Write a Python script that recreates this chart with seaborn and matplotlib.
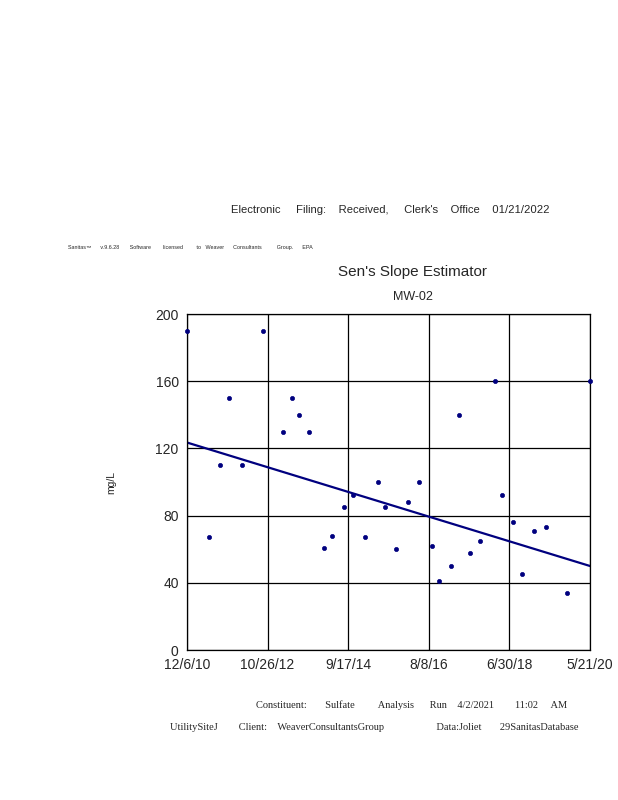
import matplotlib
matplotlib.use("Agg")
import matplotlib.pyplot as plt
import seaborn as sns
import pandas as pd

# sample dates and sulfate values (mg/L)
sample_dates = [
    "2010-12-06", "2011-06-15", "2011-09-15", "2011-12-04", "2012-03-19",
    "2012-09-20", "2013-03-05", "2013-05-27", "2013-07-20", "2013-10-17",
    "2014-02-20", "2014-05-04", "2014-08-15", "2014-10-26", "2015-02-09",
    "2015-05-31", "2015-08-02", "2015-10-30", "2016-02-10", "2016-05-16",
    "2016-09-02", "2016-11-01", "2017-02-12", "2017-04-27", "2017-07-30",
    "2017-10-19", "2018-02-24", "2018-04-28", "2018-08-03", "2018-10-19",
    "2019-01-30", "2019-05-07", "2019-11-09", "2020-05-21",
]
sulfate = [
    190, 67, 110, 150, 110,
    190, 130, 150, 140, 130,
    61, 68, 85, 92, 67,
    100, 85, 60, 88, 100,
    62, 41, 50, 140, 58,
    65, 160, 92, 76, 45,
    71, 73, 34, 160,
]

# Sen's slope line end points
trend_dates = ["2010-12-06", "2020-05-21"]
trend_values = [123.5, 50.0]

x_tick_labels = ["12/6/10", "10/26/12", "9/17/14", "8/8/16", "6/30/18", "5/21/20"]
y_ticks = [0, 40, 80, 120, 160, 200]

navy = "#00007f"

df = pd.DataFrame({"date": pd.to_datetime(sample_dates), "value": sulfate})
trend = pd.DataFrame({"date": pd.to_datetime(trend_dates), "value": trend_values})
xticks = pd.to_datetime(x_tick_labels, format="%m/%d/%y")

sns.set_style("white")
plt.rcParams["font.family"] = ["Liberation Sans", "DejaVu Sans"]

fig = plt.figure(figsize=(6.18, 8), dpi=100)
ax = fig.add_axes([187 / 618, 150 / 800, 403 / 618, 336 / 800])

sns.lineplot(data=trend, x="date", y="value", color=navy, linewidth=1.6, ax=ax)
sns.scatterplot(data=df, x="date", y="value", color=navy, s=9, edgecolor=navy,
                linewidth=0.5, ax=ax, zorder=5, clip_on=False)

ax.set_xlim(xticks[0], xticks[-1])
ax.set_ylim(0, 200)
ax.set_xticks(xticks)
ax.set_xticklabels(x_tick_labels)
ax.set_yticks(y_ticks)
ax.grid(True, color="black", linewidth=0.9)
ax.set_axisbelow(True)
for sp in ax.spines.values():
    sp.set_color("black")
    sp.set_linewidth(0.9)
ax.tick_params(axis="both", direction="out", length=4, width=0.9, color="black",
               labelsize=10, pad=2)
ax.set_xlabel("")
ax.set_ylabel("mg/L", fontsize=7.5, labelpad=28)

fig.text(0.631, 0.737, "Electronic     Filing:    Received,     Clerk's    Office    01/21/2022",
         ha="center", va="center", fontsize=8.1)
fig.text(0.11, 0.691,
         "Sanitas\u2122      v.9.6.28       Software        licensed         to   Weaver      Consultants          Group.      EPA",
         ha="left", va="center", fontsize=3.9)
fig.text(0.668, 0.66, "Sen's Slope Estimator", ha="center", va="center", fontsize=11)
fig.text(0.668, 0.629, "MW-02", ha="center", va="center", fontsize=9)

serif = ["Liberation Serif", "DejaVu Serif"]
fig.text(0.415, 0.118,
         "Constituent:       Sulfate         Analysis      Run    4/2/2021        11:02     AM",
         ha="left", va="center", fontsize=7.5, family=serif)
fig.text(0.275, 0.091,
         "UtilitySiteJ        Client:    WeaverConsultantsGroup                    Data:Joliet       29SanitasDatabase",
         ha="left", va="center", fontsize=7.5, family=serif)

fig.savefig("out.png", dpi=100, facecolor="white")
